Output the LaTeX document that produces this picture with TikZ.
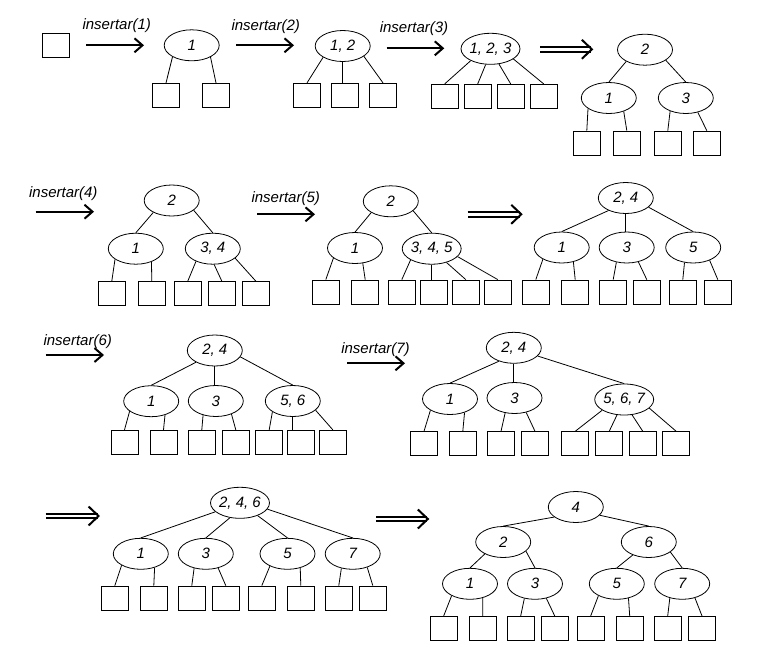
\documentclass[tikz,border=0pt]{standalone}
\usepackage{fontspec}
\setmainfont{Liberation Sans}
\usetikzlibrary{shapes.geometric,arrows.meta}

\begin{document}
\begin{tikzpicture}[x=1pt,y=-1pt,
        nodo/.style={ellipse,draw,line width=0.8pt,minimum width=55pt,minimum height=31pt,inner sep=0pt,font=\itshape\fontsize{15}{17}\selectfont},
        hoja/.style={rectangle,draw,line width=0.8pt,minimum width=27pt,minimum height=24pt,inner sep=0pt},
        rama/.style={line width=0.8pt},
        ins/.style={line width=2pt,-{Straight Barb[length=8pt,width=14pt]}},
        paso/.style={double,line width=2pt,double distance=2.5pt,-{Straight Barb[length=10pt,width=19pt]}},
        etiq/.style={font=\itshape\fontsize{15}{17}\selectfont,inner sep=0pt}]
        \useasboundingbox (0,0) rectangle (774,654);
        %Arbol vacio
        \node[hoja] (A) at (55.8,45.3) {};
        %insertar(1)
        \coordinate (a1) at (86,45.3);
        \coordinate (a1e) at (144,45.3);
        \draw[ins] (a1) -- (a1e);
        \node[etiq] (l1) at (116.7,25.7) {insertar(1)};
        \node[nodo] (B) at (191.7,45.3) {1};
        \node[hoja] (Bh1) at (166,95.3) {};
        \node[hoja] (Bh2) at (216,95.3) {};
        \draw[rama] (B.-149) -- (Bh1.north);
        \draw[rama] (B.-32) -- (Bh2.north);
        %insertar(2)
        \coordinate (a2) at (236,45.3);
        \coordinate (a2e) at (294,45.3);
        \draw[ins] (a2) -- (a2e);
        \node[etiq] (l2) at (265.7,27) {insertar(2)};
        \node[nodo] (C) at (342.7,46) {1, 2};
        \node[hoja] (Ch1) at (307,95.3) {};
        \node[hoja] (Ch2) at (345,95.3) {};
        \node[hoja] (Ch3) at (383,95.3) {};
        \draw[rama] (C.-150) -- (Ch1.north);
        \draw[rama] (C.south) -- (C.south |- Ch2.north);
        \draw[rama] (C.-26) -- (Ch3.north);
        %insertar(3)
        \coordinate (a3) at (386.7,48.3);
        \coordinate (a3e) at (444.3,48.3);
        \draw[ins] (a3) -- (a3e);
        \node[etiq] (l3) at (414,28.3) {insertar(3)};
        \node[nodo] (D) at (490.5,48.8) {1, 2, 3};
        \node[hoja] (Dh1) at (444.7,96.3) {};
        \node[hoja] (Dh2) at (477.7,96.3) {};
        \node[hoja] (Dh3) at (510.7,96.3) {};
        \node[hoja] (Dh4) at (543.7,96.3) {};
        \draw[rama] (D.-149) -- (Dh1.north);
        \draw[rama] (D.-107) -- (Dh2.north);
        \draw[rama] (D.-61) -- (Dh3.north);
        \draw[rama] (D.-24) -- (Dh4.north);
        %Division
        \coordinate (p1) at (540,49.3);
        \coordinate (p1e) at (593.3,49.3);
        \draw[paso] (p1) -- (p1e);
        \node[nodo] (E) at (645,49.7) {2};
        \node[nodo] (E1) at (608.8,98) {1};
        \node[nodo] (E2) at (685.8,98) {3};
        \node[hoja] (E1h1) at (586.8,143) {};
        \node[hoja] (E1h2) at (626.8,143) {};
        \node[hoja] (E2h1) at (667.8,143) {};
        \node[hoja] (E2h2) at (706.8,143) {};
        \draw[rama] (E.-148) -- (E1.north);
        \draw[rama] (E.-27) -- (E2.north);
        \draw[rama] (E1.-153) -- (E1h1.north);
        \draw[rama] (E1.-42) -- (E1h2.north);
        \draw[rama] (E2.-140) -- (E2h1.north);
        \draw[rama] (E2.-50) -- (E2h2.north);
        %insertar(4)
        \coordinate (a4) at (35.7,211.7);
        \coordinate (a4e) at (94,211.7);
        \draw[ins] (a4) -- (a4e);
        \node[etiq] (l4) at (63.3,194) {insertar(4)};
        \node[nodo] (F) at (171.7,200.5) {2};
        \node[nodo] (F1) at (135.8,248.7) {1};
        \node[nodo] (F2) at (212.8,248.7) {3, 4};
        \node[hoja] (F1h1) at (111.8,293.5) {};
        \node[hoja] (F1h2) at (151.8,293.5) {};
        \node[hoja] (F2h1) at (187.8,293.5) {};
        \node[hoja] (F2h2) at (221.8,293.5) {};
        \node[hoja] (F2h3) at (255.8,293.5) {};
        \draw[rama] (F.-147) -- (F1.north);
        \draw[rama] (F.-24) -- (F2.north);
        \draw[rama] (F1.-153) -- (F1h1.north);
        \draw[rama] (F1.-40) -- (F1h2.north);
        \draw[rama] (F2.-143) -- (F2h1.north);
        \draw[rama] (F2.-85) -- (F2h2.north);
        \draw[rama] (F2.-23) -- (F2h3.north);
        %insertar(5)
        \coordinate (a5) at (257.3,214.3);
        \coordinate (a5e) at (315,214.3);
        \draw[ins] (a5) -- (a5e);
        \node[etiq] (l5) at (285.7,198.3) {insertar(5)};
        \node[nodo] (G) at (390.8,201.3) {2};
        \node[nodo] (G1) at (355,248) {1};
        \node[nodo] (G2) at (431.7,248.7) {3, 4, 5};
        \node[hoja] (G1h1) at (325.8,292) {};
        \node[hoja] (G1h2) at (365.2,292) {};
        \node[hoja] (G2h1) at (401.8,292) {};
        \node[hoja] (G2h2) at (433.8,292) {};
        \node[hoja] (G2h3) at (465.8,292) {};
        \node[hoja] (G2h4) at (497.8,292) {};
        \draw[rama] (G.-150) -- (G1.north);
        \draw[rama] (G.-23) -- (G2.north);
        \draw[rama] (G1.-155) -- (G1h1.north);
        \draw[rama] (G1.-63) -- (G1h2.north);
        \draw[rama] (G2.-152) -- (G2h1.north);
        \draw[rama] (G2.south) -- (G2.south |- G2h2.north);
        \draw[rama] (G2.-43) -- (G2h3.north);
        \draw[rama] (G2.-17) -- (G2h4.north);
        %Division
        \coordinate (p2) at (467.7,214.3);
        \coordinate (p2e) at (522.7,214.3);
        \draw[paso] (p2) -- (p2e);
        \node[nodo] (H) at (625.8,198) {2, 4};
        \node[nodo] (H1) at (561.7,247.5) {1};
        \node[nodo] (H2) at (626.7,247.5) {3};
        \node[nodo] (H3) at (693.2,247.5) {5};
        \node[hoja] (H1h1) at (535.8,292) {};
        \node[hoja] (H1h2) at (575.2,292) {};
        \node[hoja] (H2h1) at (613.2,292) {};
        \node[hoja] (H2h2) at (646.8,292) {};
        \node[hoja] (H3h1) at (682.8,292) {};
        \node[hoja] (H3h2) at (717.8,292) {};
        \draw[rama] (H.-144) -- (H1.north);
        \draw[rama] (H.south) -- (H.south |- H2.north);
        \draw[rama] (H.-22) -- (H3.north);
        \draw[rama] (H1.-148) -- (H1h1.north);
        \draw[rama] (H1.-51) -- (H1h2.north);
        \draw[rama] (H2.-125) -- (H2h1.north);
        \draw[rama] (H2.-51) -- (H2h2.north);
        \draw[rama] (H3.-120) -- (H3h1.north);
        \draw[rama] (H3.-38) -- (H3h2.north);
        %insertar(6)
        \coordinate (a6) at (45.7,355);
        \coordinate (a6e) at (104,355);
        \draw[ins] (a6) -- (a6e);
        \node[etiq] (l6) at (77.7,341.7) {insertar(6)};
        \node[nodo] (I) at (214.8,350.5) {2, 4};
        \node[nodo] (I1) at (151.2,401.2) {1};
        \node[nodo] (I2) at (215.8,401) {3};
        \node[nodo] (I3) at (292.8,401) {5, 6};
        \node[hoja] (I1h1) at (124.5,442.2) {};
        \node[hoja] (I1h2) at (163.5,442.2) {};
        \node[hoja] (I2h1) at (201.8,442.2) {};
        \node[hoja] (I2h2) at (235.8,442.2) {};
        \node[hoja] (I3h1) at (269.2,442.2) {};
        \node[hoja] (I3h2) at (300.8,442.2) {};
        \node[hoja] (I3h3) at (332.8,442.2) {};
        \draw[rama] (I.-148) -- (I1.north);
        \draw[rama] (I.south) -- (I.south |- I2.north);
        \draw[rama] (I.-14) -- (I3.north);
        \draw[rama] (I1.-155) -- (I1h1.north);
        \draw[rama] (I1.-45) -- (I1h2.north);
        \draw[rama] (I2.-132) -- (I2h1.north);
        \draw[rama] (I2.-40) -- (I2h2.north);
        \draw[rama] (I3.-152) -- (I3h1.north);
        \draw[rama] (I3.south) -- (I3.south |- I3h2.north);
        \draw[rama] (I3.-22) -- (I3h3.north);
        %insertar(7)
        \coordinate (a7) at (347.3,363.3);
        \coordinate (a7e) at (405,363.3);
        \draw[ins] (a7) -- (a7e);
        \node[etiq] (l7) at (375.5,349.3) {insertar(7)};
        \node[nodo] (J) at (513.8,347.8) {2, 4};
        \node[nodo] (J1) at (450,399) {1};
        \node[nodo] (J2) at (514.5,398) {3};
        \node[nodo] (J3) at (624.2,399.5) {5, 6, 7};
        \node[hoja] (J1h1) at (424,443.7) {};
        \node[hoja] (J1h2) at (462.8,443.7) {};
        \node[hoja] (J2h1) at (501,443.7) {};
        \node[hoja] (J2h2) at (535,443.7) {};
        \node[hoja] (J3h1) at (575.2,443.7) {};
        \node[hoja] (J3h2) at (609.2,443.7) {};
        \node[hoja] (J3h3) at (642.8,443.7) {};
        \node[hoja] (J3h4) at (676.2,443.7) {};
        \draw[rama] (J.-138) -- (J1.north);
        \draw[rama] (J.south) -- (J.south |- J2.north);
        \draw[rama] (J.-19) -- (J3.north);
        \draw[rama] (J1.-150) -- (J1h1.north);
        \draw[rama] (J1.-43) -- (J1h2.north);
        \draw[rama] (J2.-122) -- (J2h1.north);
        \draw[rama] (J2.-51) -- (J2h2.north);
        \draw[rama] (J3.-154) -- (J3h1.north);
        \draw[rama] (J3.-115) -- (J3h2.north);
        \draw[rama] (J3.-63) -- (J3h3.north);
        \draw[rama] (J3.-19) -- (J3h4.north);
        %Division
        \coordinate (p3) at (45.7,516);
        \coordinate (p3e) at (100,516);
        \draw[paso] (p3) -- (p3e);
        \node[nodo] (K) at (240,502.8) {2, 4, 6};
        \node[nodo] (K1) at (140.8,553.8) {1};
        \node[nodo] (K2) at (205.8,553.8) {3};
        \node[nodo] (K3) at (287.5,553.8) {5};
        \node[nodo] (K4) at (352.7,553.8) {7};
        \node[hoja] (K1h1) at (114.8,598) {};
        \node[hoja] (K1h2) at (153.8,598) {};
        \node[hoja] (K2h1) at (191.8,598) {};
        \node[hoja] (K2h2) at (225.8,598) {};
        \node[hoja] (K3h1) at (261.8,598) {};
        \node[hoja] (K3h2) at (300.8,598) {};
        \node[hoja] (K4h1) at (338.8,598) {};
        \node[hoja] (K4h2) at (372.8,598) {};
        \draw[rama] (K.-160) -- (K1.north);
        \draw[rama] (K.-124) -- (K2.north);
        \draw[rama] (K.-36) -- (K3.north);
        \draw[rama] (K.-13) -- (K4.north);
        \draw[rama] (K1.-149) -- (K1h1.north);
        \draw[rama] (K1.-45) -- (K1h2.north);
        \draw[rama] (K2.-129) -- (K2h1.north);
        \draw[rama] (K2.-49) -- (K2h2.north);
        \draw[rama] (K3.-145) -- (K3h1.north);
        \draw[rama] (K3.-48) -- (K3h2.north);
        \draw[rama] (K4.-128) -- (K4h1.north);
        \draw[rama] (K4.-43) -- (K4h2.north);
        %Division de la raiz
        \coordinate (p4) at (376,519);
        \coordinate (p4e) at (429.3,519);
        \draw[paso] (p4) -- (p4e);
        \node[nodo] (L) at (575.8,507) {4};
        \node[nodo] (L1) at (503.2,542) {2};
        \node[nodo] (L2) at (648.8,542) {6};
        \node[nodo] (L11) at (470,583.8) {1};
        \node[nodo] (L12) at (535,583.8) {3};
        \node[nodo] (L21) at (616.8,583.8) {5};
        \node[nodo] (L22) at (682.2,583.8) {7};
        \node[hoja] (L11h1) at (443.7,628.3) {};
        \node[hoja] (L11h2) at (482.7,628.3) {};
        \node[hoja] (L12h1) at (520.7,628.3) {};
        \node[hoja] (L12h2) at (554.7,628.3) {};
        \node[hoja] (L21h1) at (590.7,628.3) {};
        \node[hoja] (L21h2) at (629.7,628.3) {};
        \node[hoja] (L22h1) at (667.7,628.3) {};
        \node[hoja] (L22h2) at (702,628.3) {};
        \draw[rama] (L.-155) -- (L1.north);
        \draw[rama] (L.-19) -- (L2.north);
        \draw[rama] (L1.-147) -- (L11.north);
        \draw[rama] (L1.-22) -- (L12.north);
        \draw[rama] (L2.-141) -- (L21.north);
        \draw[rama] (L2.-25) -- (L22.north);
        \draw[rama] (L11.-147) -- (L11h1.north);
        \draw[rama] (L11.-48) -- (L11h2.north);
        \draw[rama] (L12.-126) -- (L12h1.north);
        \draw[rama] (L12.-52) -- (L12h2.north);
        \draw[rama] (L21.-147) -- (L21h1.north);
        \draw[rama] (L21.-51) -- (L21h2.north);
        \draw[rama] (L22.-131) -- (L22h1.north);
        \draw[rama] (L22.-48) -- (L22h2.north);
\end{tikzpicture}
\end{document}
